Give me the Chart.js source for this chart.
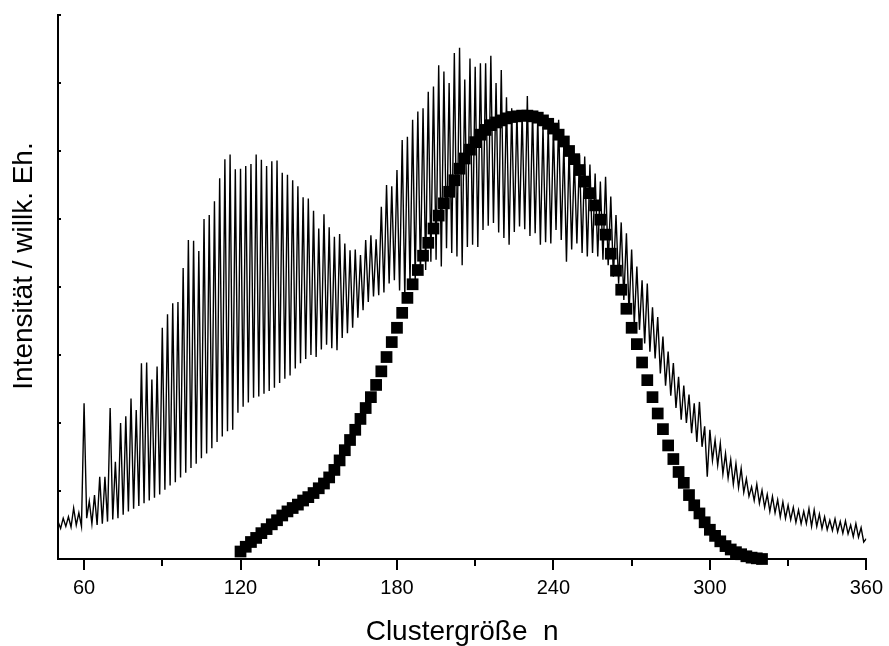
<!DOCTYPE html>
<html lang="de">
<head>
<meta charset="utf-8">
<title>Clustergröße</title>
<script src="https://cdn.jsdelivr.net/npm/chart.js@4.4.1/dist/chart.umd.min.js"></script>
<style>
  html, body { margin: 0; padding: 0; background: #fff; }
  #box { width: 889px; height: 646px; }
</style>
</head>
<body>
<div id="box"><canvas id="grafica" width="889" height="646"></canvas></div>
<script>
// Untergrund vor dem ersten Peak, n = 50 ... 59
const untergrund = [0.55, 0.45, 0.60, 0.48, 0.62, 0.47, 0.75, 0.50, 0.68, 0.48];

// Peakhöhen bei geraden n = 60, 62, ... 360
const peaks = [
  2.29, 0.85, 0.94, 1.21, 1.21, 2.22, 1.43, 2.00, 2.10, 2.36,
  2.19, 2.88, 2.89, 2.64, 2.83, 3.40, 3.60, 3.76, 3.78, 4.28,
  4.69, 4.68, 4.53, 5.00, 5.06, 5.26, 5.60, 5.88, 5.95, 5.73,
  5.74, 5.78, 5.81, 5.95, 5.87, 5.78, 5.85, 5.86, 5.68, 5.65,
  5.57, 5.48, 5.32, 5.30, 5.12, 4.86, 5.07, 4.88, 4.74, 4.78,
  4.64, 4.54, 4.55, 4.47, 4.69, 4.76, 4.70, 5.18, 5.50, 5.48,
  5.72, 6.16, 6.21, 6.46, 6.58, 6.63, 6.87, 6.95, 7.26, 7.17,
  7.00, 7.44, 7.52, 7.05, 7.36, 7.24, 7.29, 7.29, 7.40, 7.00,
  7.19, 6.79, 6.63, 6.58, 6.55, 6.81, 6.59, 6.50, 6.36, 6.38,
  6.33, 6.46, 6.10, 6.01, 5.89, 5.94, 5.92, 5.80, 5.67, 5.55,
  5.62, 5.33, 5.06, 4.95, 4.79, 4.55, 4.30, 4.10, 4.05, 3.70,
  3.56, 3.27, 3.05, 2.88, 2.68, 2.55, 2.42, 2.29, 2.31, 1.95,
  1.90, 1.75, 1.70, 1.55, 1.46, 1.40, 1.33, 1.18, 1.06, 1.10,
  1.01, 0.95, 0.92, 0.87, 0.84, 0.79, 0.76, 0.72, 0.70, 0.74,
  0.72, 0.66, 0.62, 0.57, 0.59, 0.55, 0.56, 0.50, 0.52, 0.46,
  0.30
];

// Minima zwischen den Peaks, ungerade n = 61, 63, ... 359
const taeler = [
  0.60, 0.52, 0.50, 0.52, 0.55, 0.58, 0.60, 0.65, 0.70, 0.74,
  0.78, 0.82, 0.86, 0.90, 0.95, 1.02, 1.08, 1.13, 1.20, 1.27,
  1.34, 1.40, 1.48, 1.55, 1.63, 1.72, 1.80, 1.88, 1.90, 2.15,
  2.24, 2.30, 2.37, 2.39, 2.43, 2.47, 2.52, 2.59, 2.65, 2.70,
  2.80, 2.88, 2.94, 3.00, 2.97, 3.08, 3.15, 3.10, 3.07, 3.25,
  3.32, 3.40, 3.55, 3.66, 3.78, 3.86, 3.88, 3.92, 4.05, 4.10,
  3.95, 3.86, 4.05, 4.10, 4.20, 4.25, 4.37, 4.40, 4.30, 4.57,
  4.50, 4.45, 4.32, 4.59, 4.62, 4.59, 4.84, 4.90, 4.94, 4.80,
  4.72, 4.62, 4.81, 4.89, 4.85, 4.75, 4.79, 4.62, 4.66, 4.64,
  4.84, 4.69, 4.37, 4.55, 4.64, 4.50, 4.45, 4.50, 4.45, 4.40,
  4.32, 4.15, 4.05, 3.81, 3.61, 3.45, 3.37, 3.17, 3.05, 2.95,
  2.73, 2.55, 2.40, 2.22, 2.05, 2.00, 1.85, 1.72, 1.65, 1.21,
  1.45, 1.38, 1.25, 1.19, 1.10, 1.05, 0.98, 0.92, 0.86, 0.82,
  0.76, 0.70, 0.68, 0.62, 0.60, 0.58, 0.54, 0.52, 0.52, 0.48,
  0.48, 0.45, 0.43, 0.42, 0.40, 0.38, 0.37, 0.33, 0.32, 0.25
];

// Berechnete Verteilung (Quadrate), n = 120, 122, ... 320
const verteilung = [
  0.11, 0.18, 0.25, 0.31, 0.38, 0.44, 0.51, 0.57, 0.64, 0.70,
  0.75, 0.80, 0.86, 0.91, 0.97, 1.04, 1.11, 1.20, 1.31, 1.45,
  1.60, 1.75, 1.90, 2.06, 2.22, 2.38, 2.56, 2.76, 2.97, 3.19,
  3.40, 3.62, 3.84, 4.04, 4.25, 4.46, 4.65, 4.86, 5.05, 5.23,
  5.40, 5.57, 5.74, 5.89, 6.02, 6.13, 6.24, 6.31, 6.38, 6.42,
  6.45, 6.48, 6.50, 6.51, 6.52, 6.52, 6.51, 6.49, 6.45, 6.40,
  6.33, 6.24, 6.14, 6.00, 5.88, 5.72, 5.55, 5.38, 5.20, 4.99,
  4.77, 4.49, 4.24, 3.96, 3.68, 3.40, 3.16, 2.89, 2.63, 2.38,
  2.14, 1.91, 1.67, 1.47, 1.28, 1.12, 0.94, 0.79, 0.67, 0.54,
  0.43, 0.34, 0.26, 0.19, 0.14, 0.10, 0.07, 0.04, 0.02, 0.01,
  0.00
];

const xTicks = [60, 90, 120, 150, 180, 210, 240, 270, 300, 330, 360];
const yTicks = [0, 1, 2, 3, 4, 5, 6, 7, 8];

const schrift = '"Liberation Sans", Arial, sans-serif';

// Spektrum zusammensetzen: Untergrund, dann abwechselnd Peak und Tal
const spektrum = untergrund.map((v, i) => ({ x: 50 + i, y: v }));
peaks.forEach((v, i) => {
  spektrum.push({ x: 60 + 2 * i, y: v });
  if (i < taeler.length) {
    spektrum.push({ x: 61 + 2 * i, y: taeler[i] });
  }
});

const quadrate = verteilung.map((v, i) => ({ x: 120 + 2 * i, y: v }));

// Achsenstriche und Achsentitel
const achsenPlugin = {
  id: 'achsen',
  afterDraw(chart) {
    const { ctx, chartArea, scales: { x, y } } = chart;
    ctx.save();
    ctx.strokeStyle = '#000';
    ctx.lineWidth = 2;
    xTicks.forEach((v) => {
      const px = Math.round(x.getPixelForValue(v));
      const len = v % 60 === 0 ? 11 : 7;
      ctx.beginPath();
      ctx.moveTo(px, chartArea.bottom);
      ctx.lineTo(px, chartArea.bottom + len);
      ctx.stroke();
    });
    yTicks.forEach((v) => {
      const py = Math.round(y.getPixelForValue(v));
      ctx.beginPath();
      ctx.moveTo(chartArea.left, py);
      ctx.lineTo(chartArea.left + 3, py);
      ctx.stroke();
    });

    ctx.fillStyle = '#000';
    ctx.font = '28px ' + schrift;
    ctx.textAlign = 'center';
    ctx.textBaseline = 'alphabetic';
    ctx.fillText('Clustergröße  n', (chartArea.left + chartArea.right) / 2, 640);
    ctx.translate(32, 266);
    ctx.rotate(-Math.PI / 2);
    ctx.fillText('Intensität / willk. Eh.', 0, 0);
    ctx.restore();
  }
};

new Chart(document.getElementById('grafica'), {
  type: 'scatter',
  data: {
    datasets: [
      {
        label: 'Verteilung',
        data: quadrate,
        pointStyle: 'rect',
        pointRadius: 8.3,
        backgroundColor: '#000',
        borderColor: '#000',
        borderWidth: 0,
        clip: false
      },
      {
        label: 'Spektrum',
        data: spektrum,
        showLine: true,
        borderColor: '#000',
        borderWidth: 1.4,
        pointRadius: 0,
        tension: 0
      }
    ]
  },
  options: {
    responsive: false,
    animation: false,
    events: [],
    layout: { padding: { left: 0, top: 15, right: 20, bottom: 0 } },
    plugins: { legend: { display: false }, tooltip: { enabled: false } },
    scales: {
      x: {
        type: 'linear',
        min: 50,
        max: 360,
        afterBuildTicks: (scale) => {
          scale.ticks = xTicks.map((v) => ({ value: v }));
        },
        afterFit: (scale) => { scale.height = 87; },
        border: { color: '#000', width: 2 },
        grid: { drawOnChartArea: false, drawTicks: true, tickLength: 11, tickColor: 'rgba(0,0,0,0)' },
        ticks: {
          color: '#000',
          padding: 6,
          maxRotation: 0,
          autoSkip: false,
          font: { family: schrift, size: 20 },
          callback: (v) => (v % 60 === 0 ? v : '')
        }
      },
      y: {
        type: 'linear',
        min: 0,
        max: 8,
        afterFit: (scale) => { scale.width = 58; },
        border: { color: '#000', width: 2 },
        grid: { drawOnChartArea: false, drawTicks: false },
        ticks: { display: false, stepSize: 1 }
      }
    }
  },
  plugins: [achsenPlugin]
});
</script>
</body>
</html>
